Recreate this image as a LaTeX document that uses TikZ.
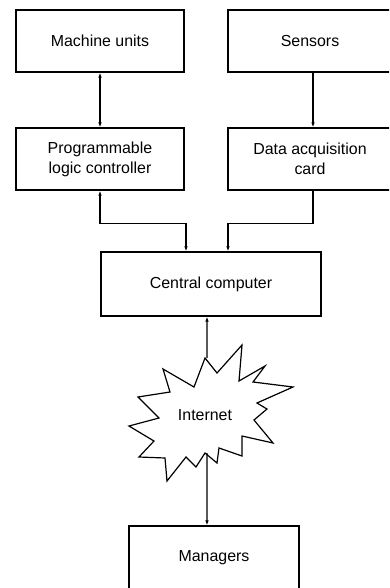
\documentclass[tikz,border=0pt]{standalone}
\usepackage{fontspec}
\setmainfont{Liberation Sans}
\usetikzlibrary{arrows.meta,calc}
\tikzset{box/.style={draw,fill=white,inner sep=0pt,align=center,minimum width=168bp,minimum height=62bp}}

\begin{document}
\begin{tikzpicture}[x=1bp,y=-1bp,line width=1.2bp,>={Latex[length=5bp,width=3.5bp]},font=\fontsize{16}{20}\selectfont]
\useasboundingbox (0,0) rectangle (389,588);
\clip (0,0) rectangle (389,588);
\node[box] (mu) at (100,41) {Machine units};
\node[box,minimum width=164bp] (sens) at (310,41) {Sensors};
\node[box] (plc) at (100,159) {Programmable\\logic controller};
\node[box,minimum width=164bp] (daq) at (310,159) {Data acquisition\\card};
\node[box,minimum width=220bp,minimum height=64bp] (cc) at (211,284) {Central computer};
\draw[fill=white] (163,369) -- (170,392) -- (138,397) -- (159,418) -- (129,426) -- (154,441)
  -- (139,457) -- (165,458) -- (167,481) -- (186,457) -- (196,467) -- (205,453) -- (217,463)
  -- (219,448) -- (242,456) -- (242,436) -- (273,443) -- (254,420) -- (267,409) -- (257,403)
  -- (293,387) -- (253,382) -- (265,366) -- (239,381) -- (242,345) -- (217,373) -- (205,358)
  -- (194,387) -- cycle;
\node (net) at (205,415) {Internet};
\coordinate (ntop) at (207,358);
\coordinate (nbot) at (207,453);
\node[box,minimum width=170bp,minimum height=64bp] (mg) at (214,558) {Managers};
\draw[<->] (mu) -- (plc);
\draw[->] ([xshift=3bp]sens.south) -- ([xshift=3bp]daq.north);
\draw[<->] (plc.south) -- ++(0,33) -| ([xshift=-25bp]cc.north);
\draw[->] ([xshift=3bp]daq.south) -- ++(0,33) -| ([xshift=17bp]cc.north);
\draw[->] (ntop) -- ([xshift=-4bp]cc.south);
\draw[->] (nbot) -- ([xshift=-7bp]mg.north);
\end{tikzpicture}
\end{document}
